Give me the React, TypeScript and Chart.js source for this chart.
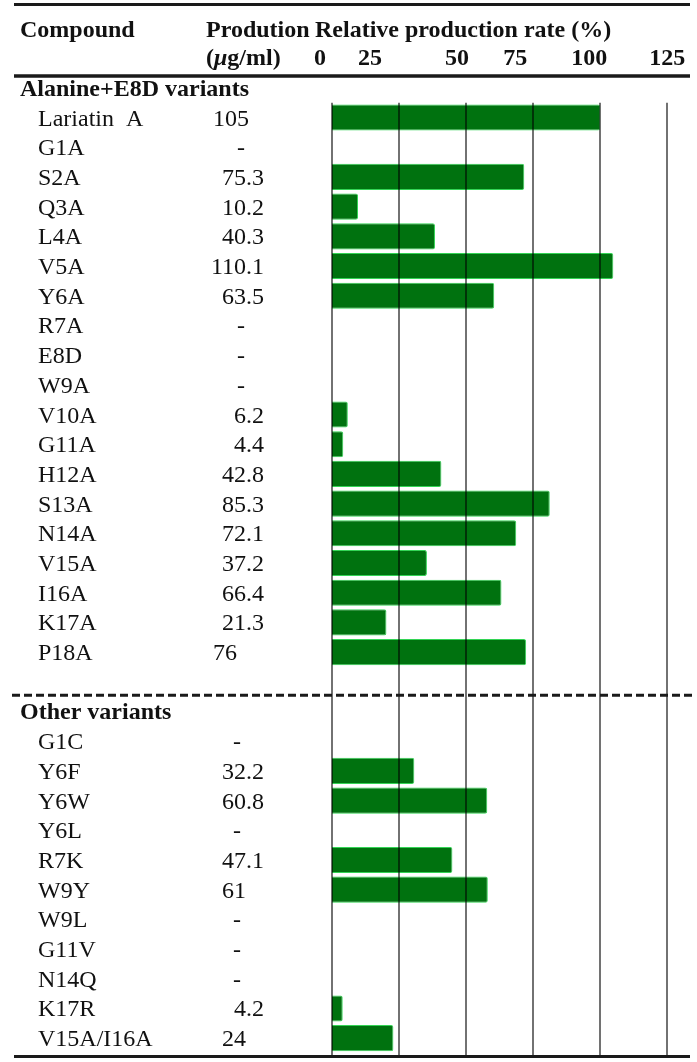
import React, { useEffect, useRef } from "react";
import { Chart, registerables } from "chart.js";

Chart.register(...registerables);

// ---------------- data ----------------
const groupTitles = ["Alanine+E8D variants", "Other variants"];

const alanineCompounds = [
  "Lariatin  A", "G1A", "S2A", "Q3A", "L4A", "V5A", "Y6A", "R7A", "E8D", "W9A",
  "V10A", "G11A", "H12A", "S13A", "N14A", "V15A", "I16A", "K17A", "P18A",
];
const alanineProduction = [
  "105", "-", "75.3", "10.2", "40.3", "110.1", "63.5", "-", "-", "-",
  "6.2", "4.4", "42.8", "85.3", "72.1", "37.2", "66.4", "21.3", "76",
];
// relative production rate (%)
const alanineRelative = [
  100, null, 71.7, 9.7, 38.4, 104.9, 60.5, null, null, null,
  5.9, 4.2, 40.8, 81.2, 68.7, 35.4, 63.2, 20.3, 72.4,
];

const otherCompounds = [
  "G1C", "Y6F", "Y6W", "Y6L", "R7K", "W9Y", "W9L", "G11V", "N14Q", "K17R", "V15A/I16A",
];
const otherProduction = ["-", "32.2", "60.8", "-", "47.1", "61", "-", "-", "-", "4.2", "24"];
const otherRelative = [null, 30.7, 57.9, null, 44.9, 58.1, null, null, null, 4.0, 22.9];

const tickValues = [0, 25, 50, 75, 100, 125];
const tickLabels = ["0", "25", "50", "75", "100", "125"];

const headerCompound = "Compound";
const headerProduction = "Prodution";
const headerUnitOpen = "(";
const headerUnitMu = "μ";
const headerUnitRest = "g/ml)";
const headerRelative = "Relative production rate (%)";

// ---------------- layout / style ----------------
const W = 697;
const H = 1062;
const SERIF = '"Liberation Serif", "Times New Roman", Times, serif';
const TICK_NUDGE = [-12, -29, -9, -18, -11, 0];
const INK = "#111";

type Row = { kind: "group" | "item" | "sep"; label: string; prod?: string; section: number };

function buildRows(): Row[] {
  const rows: Row[] = [];
  rows.push({ kind: "group", label: groupTitles[0], section: 0 });
  alanineCompounds.forEach((c, i) =>
    rows.push({ kind: "item", label: c, prod: alanineProduction[i], section: 0 })
  );
  rows.push({ kind: "sep", label: "", section: 0 });
  rows.push({ kind: "group", label: groupTitles[1], section: 1 });
  otherCompounds.forEach((c, i) =>
    rows.push({ kind: "item", label: c, prod: otherProduction[i], section: 1 })
  );
  return rows;
}

export default function App() {
  const ref = useRef<HTMLCanvasElement | null>(null);

  useEffect(() => {
    document.body.style.margin = "0";
    const canvas = ref.current;
    if (!canvas) return;

    const rows = buildRows();
    const values: (number | null)[] = [
      null,
      ...alanineRelative,
      null,
      null,
      ...otherRelative,
    ];
    const labels = rows.map((r, i) => (r.label ? r.label : `sep-${i}`));

    const tablePlugin = {
      id: "tableDecor",
      afterDatasetsDraw(chart: any) {
        const { ctx, chartArea, scales } = chart;
        const xs = scales.x;
        const ys = scales.y;
        const band = ys.getPixelForValue(1) - ys.getPixelForValue(0);
        const gridTop = ys.getPixelForValue(1) - band / 2;
        const gridBottom = chartArea.bottom + 2;
        ctx.save();
        ctx.globalCompositeOperation = "multiply";
        ctx.strokeStyle = "#727272";
        ctx.lineWidth = 2;
        tickValues.forEach((v) => {
          const x = Math.round(xs.getPixelForValue(v));
          ctx.beginPath();
          ctx.moveTo(x, gridTop);
          ctx.lineTo(x, gridBottom);
          ctx.stroke();
        });
        ctx.restore();
      },
      afterDraw(chart: any) {
        const { ctx, chartArea, scales } = chart;
        const xs = scales.x;
        const ys = scales.y;
        const band = ys.getPixelForValue(1) - ys.getPixelForValue(0);
        ctx.save();
        ctx.fillStyle = INK;
        ctx.strokeStyle = "#1a1a1a";
        ctx.textBaseline = "alphabetic";

        // horizontal rules
        const lineL = 14;
        const lineR = 690;
        ctx.lineWidth = 3;
        ctx.beginPath();
        ctx.moveTo(lineL, 4.5);
        ctx.lineTo(lineR, 4.5);
        ctx.stroke();
        ctx.lineWidth = 3.5;
        ctx.beginPath();
        ctx.moveTo(lineL, 76);
        ctx.lineTo(lineR, 76);
        ctx.stroke();
        ctx.lineWidth = 3;
        ctx.beginPath();
        ctx.moveTo(lineL, chartArea.bottom + 3.5);
        ctx.lineTo(lineR, chartArea.bottom + 3.5);
        ctx.stroke();

        // header
        ctx.font = `bold 24px ${SERIF}`;
        ctx.textAlign = "left";
        ctx.fillText(headerCompound, 20, 37);
        ctx.fillText(headerProduction, 206, 37);
        ctx.fillText(headerRelative, 315, 37);
        let ux = 206;
        ctx.fillText(headerUnitOpen, ux, 65);
        ux += ctx.measureText(headerUnitOpen).width;
        ctx.font = `italic bold 24px ${SERIF}`;
        ctx.fillText(headerUnitMu, ux, 65);
        ux += ctx.measureText(headerUnitMu).width;
        ctx.font = `bold 24px ${SERIF}`;
        ctx.fillText(headerUnitRest, ux, 65);

        ctx.textAlign = "center";
        tickValues.forEach((v, i) => {
          const x = xs.getPixelForValue(v) + TICK_NUDGE[i];
          ctx.fillText(tickLabels[i], x, 65);
        });

        // rows
        rows.forEach((r, i) => {
          const yc = ys.getPixelForValue(i);
          const yb = yc + 8;
          if (r.kind === "group") {
            ctx.font = `bold 24px ${SERIF}`;
            ctx.textAlign = "left";
            ctx.fillText(r.label, 20, yb);
          } else if (r.kind === "item") {
            ctx.font = `24px ${SERIF}`;
            ctx.textAlign = "left";
            ctx.fillText(r.label, 38, yb);
            const p = r.prod || "";
            if (p === "-") {
              ctx.textAlign = "center";
              ctx.fillText(p, r.section === 0 ? 241 : 237, yb);
            } else if (p.includes(".")) {
              ctx.textAlign = "right";
              ctx.fillText(p, 264, yb);
            } else {
              ctx.textAlign = "left";
              ctx.fillText(p, r.section === 0 ? 213 : 222, yb);
            }
          } else {
            const y = yc + band * 0.45;
            ctx.save();
            ctx.setLineDash([8, 4]);
            ctx.lineWidth = 3;
            ctx.beginPath();
            ctx.moveTo(lineL - 2, y);
            ctx.lineTo(lineR + 2, y);
            ctx.stroke();
            ctx.restore();
          }
        });
        ctx.restore();
      },
    };

    const chart = new Chart(canvas, {
      type: "bar",
      data: {
        labels,
        datasets: [
          {
            data: values as any,
            backgroundColor: "#00720f",
            borderColor: "#33d455",
            borderWidth: 1,
            borderRadius: 2,
            categoryPercentage: 1,
            barPercentage: 0.88,
          },
        ],
      },
      options: {
        responsive: false,
        animation: false,
        indexAxis: "y",
        layout: { padding: { left: 332, right: 11, top: 73, bottom: 9 } },
        scales: {
          x: { type: "linear", display: false, min: 0, max: 132, grid: { display: false } },
          y: { type: "category", display: false, offset: true, grid: { display: false } },
        },
        plugins: {
          legend: { display: false },
          tooltip: { enabled: false },
        },
      },
      plugins: [tablePlugin],
    });

    return () => chart.destroy();
  }, []);

  return (
    <div style={{ width: W, height: H, background: "#fff" }}>
      <canvas ref={ref} width={W} height={H} style={{ display: "block" }} />
    </div>
  );
}
